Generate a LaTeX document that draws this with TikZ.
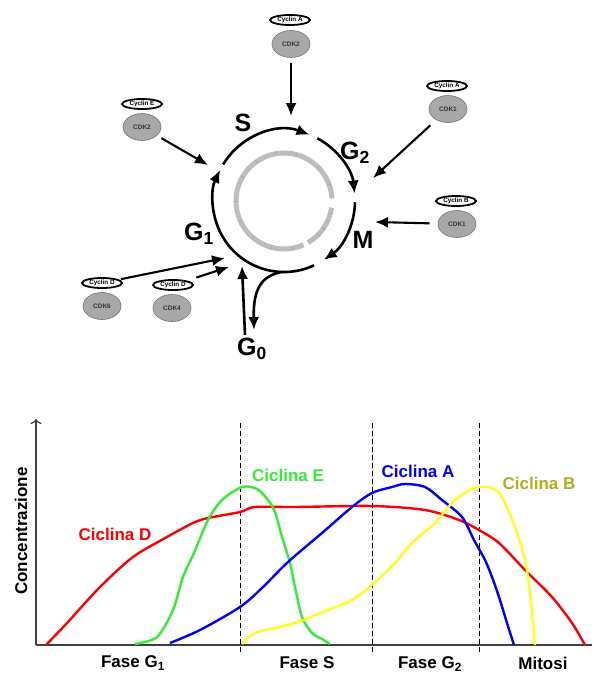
\documentclass[tikz,border=0pt]{standalone}
\usepackage{fontspec}
\setmainfont{Liberation Sans}
\usetikzlibrary{arrows.meta,positioning,shapes.geometric}
\definecolor{ccRed}{HTML}{FF0000}
\definecolor{ccGreen}{HTML}{33EE33}
\definecolor{ccBlue}{HTML}{0000FF}
\definecolor{ccYellow}{HTML}{FFFF1A}
\definecolor{ccOlive}{HTML}{B0B01E}
\definecolor{ccRing}{HTML}{BDBDBD}
\definecolor{ccCdk}{HTML}{A8A8A8}

\begin{document}
\begin{tikzpicture}[x=1pt,y=-1pt,
    cdk/.style={ellipse,draw=black!55,fill=ccCdk,line width=0.6pt,minimum width=38pt,
                minimum height=27pt,inner sep=0pt,font=\fontsize{6.5}{7}\selectfont\bfseries,text=black!80},
    cyc/.style={ellipse,draw=black,fill=white,line width=1.8pt,minimum width=40pt,
                minimum height=10pt,inner sep=0pt,font=\fontsize{6.3}{6}\selectfont\bfseries},
    phase/.style={font=\fontsize{25}{25}\selectfont\bfseries},
    loop/.style={line width=2.6pt,-{Latex[length=13pt,width=11pt]}},
    arr/.style={line width=2.1pt,-{Latex[length=13pt,width=11pt]}},
    lbl/.style={font=\fontsize{17}{17}\selectfont\bfseries},
    curve/.style={line width=2.4pt,line join=round},
    guide/.style={line width=0.9pt,dash pattern=on 5pt off 3pt}]
  \useasboundingbox[fill=white] (0,0) rectangle (592,675);

  % cell cycle
  \coordinate (c) at (284,201);
  \draw[ccRing,line width=5pt] (c) ++(-294:48) arc[start angle=-294,end angle=-3,radius=48];
  \draw[ccRing,line width=5pt] (c) ++(8:48) arc[start angle=8,end angle=60,radius=48];
  \foreach \a in {-280,-255,-230,-205,-180,-150,-125,-100,-75,-45,-20,15,25,35,45}
    \draw[black!35,line width=0.7pt] (c) ++(\a:46) -- ++(\a:4);
  \path (c) ++(-149:71) coordinate (sS);
  \path (c) ++(-62:71) coordinate (sG2);
  \path (c) ++(1:71) coordinate (sM);
  \path (c) ++(65:71) coordinate (sG1);
  \path (c) ++(92:71) coordinate (g0out);
  \draw[loop] (sS) arc[start angle=-149,end angle=-69,radius=71];
  \draw[loop] (sG2) arc[start angle=-62,end angle=-6,radius=71];
  \draw[loop] (sM) arc[start angle=1,end angle=56,radius=71];
  \draw[loop] (sG1) arc[start angle=65,end angle=206,radius=71];

  \node[phase] (pS) at (243,123) {S};
  \node[phase] (pG2) at (355,153) {G\textsubscript{2}};
  \node[phase] (pM) at (363,240) {M};
  \node[phase] (pG1) at (199,234) {G\textsubscript{1}};
  \node[phase] (pG0) at (252,349) {G\textsubscript{0}};
  \coordinate (g0back) at (242,266);
  \draw[loop] (g0out) .. controls (262,276) and (253,288) .. (254,330);
  \draw[loop] ([xshift=-7pt]pG0.north) -- (g0back);

  % complexes
  \node[cdk] (cdkA2) at (291,44) {CDK2};
  \node[cyc] (cycA2) at (290,20) {Cyclin A};
  \node[cdk] (cdkE) at (142,127) {CDK2};
  \node[cyc] (cycE) at (142,104) {Cyclin E};
  \node[cdk] (cdkA1) at (448,109) {CDK1};
  \node[cyc] (cycA1) at (447,86) {Cyclin A};
  \node[cdk] (cdkB) at (457,224) {CDK1};
  \node[cyc] (cycB) at (456,201) {Cyclin B};
  \node[cdk] (cdkD6) at (102,306) {CDK6};
  \node[cyc] (cycD6) at (102,283) {Cyclin D};
  \node[cdk] (cdkD4) at (172,308) {CDK4};
  \node[cyc] (cycD4) at (173,285) {Cyclin D};

  \coordinate (tA2) at (291,116);
  \coordinate (tE) at (208,165);
  \coordinate (tA1) at (373,178);
  \coordinate (tB) at (375,222);
  \coordinate (tD6) at (225,258);
  \coordinate (tD4) at (229,267);
  \draw[arr,shorten <=5pt] (cdkA2) -- (tA2);
  \draw[arr,shorten <=5pt] (cdkE) -- (tE);
  \draw[arr,shorten <=8pt] (cdkA1) -- (tA1);
  \draw[arr,shorten <=8pt] (cdkB) -- (tB);
  \draw[arr,shorten <=2pt] (cycD6) -- (tD6);
  \draw[arr,shorten <=10pt] (cycD4) -- (tD4);

  % concentration chart
  \coordinate (o) at (36,645);
  \coordinate (ytop) at (36,419);
  \coordinate (xend) at (592,645);
  \draw[line width=1.2pt,black!75,-{To[length=5pt,width=11pt]}] (o) -- (ytop);
  \draw[line width=1.2pt,black!75] (o) -- (xend);
  \foreach \x in {240,372,479}
    \draw[guide] (\x,423) -- (\x,653);

  \draw[curve,ccRed] plot[smooth] coordinates {(46,645) (67,623) (100,587) (133,557) (167,537)
    (193,523) (208,518) (240,512) (255,507) (295,507) (372,506) (425,510) (459,520) (479,530)
    (499,543) (525,570) (552,597) (572,623) (585,645)};
  \draw[curve,ccGreen] plot[smooth] coordinates {(135,644) (157,637) (173,610) (183,577) (194,553)
    (208,520) (222,500) (242,487) (257,489) (268,500) (275,512) (282,537) (290,563) (295,587)
    (302,617) (312,633) (322,639) (330,644)};
  \draw[curve,ccBlue] plot[smooth] coordinates {(170,643) (200,630) (240,607) (262,588) (288,562)
    (322,533) (352,507) (372,493) (392,487) (405,484) (425,487) (442,500) (462,517) (474,540)
    (485,560) (492,577) (499,597) (507,623) (514,645)};
  \draw[curve,ccYellow] plot[smooth] coordinates {(242,644) (255,633) (295,623) (328,610) (352,600)
    (372,585) (395,563) (412,543) (435,523) (452,503) (469,490) (479,487) (492,488) (502,497)
    (515,527) (525,560) (530,593) (535,645)};

  \node[lbl,text=ccRed] (lD) at (115,534) {Ciclina D};
  \node[lbl,text=ccGreen] (lE) at (288,475) {Ciclina E};
  \node[lbl,text=ccBlue] (lA) at (418,471) {Ciclina A};
  \node[lbl,text=ccOlive] (lB) at (539,483) {Ciclina B};
  \node[lbl,rotate=90] (lY) at (21,531) {Concentrazione};
  \node[lbl] (fG1) at (133,663) {Fase G\textsubscript{1}};
  \node[lbl] (fS) at (307,663) {Fase S};
  \node[lbl] (fG2) at (430,664) {Fase G\textsubscript{2}};
  \node[lbl] (fM) at (543,663) {Mitosi};
\end{tikzpicture}
\end{document}
